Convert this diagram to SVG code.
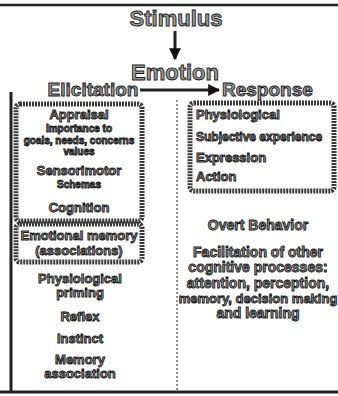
<svg xmlns="http://www.w3.org/2000/svg" width="338" height="396" viewBox="0 0 338 396">
<defs>
<marker id="ah" viewBox="0 0 10 10" refX="9" refY="5" markerWidth="4" markerHeight="4" orient="auto"><path d="M0,0 L10,5 L0,10 z" fill="#111"/></marker>
<style>
.t{font-family:"Liberation Sans",Arial,sans-serif;fill:#9a9a9a;stroke:#1a1a1a;stroke-width:0.9;text-anchor:middle;font-weight:bold}
.h{font-size:19px}
.hx{font-size:22px}
.m{font-size:13px}
.r{font-size:14px}
.s{font-size:10px}
.l{text-anchor:start}
.box{fill:none;stroke:#3a3a3a;stroke-width:5;stroke-dasharray:2 1}
.line{stroke:#222;fill:none}
</style>
</defs>
<rect x="0" y="0" width="338" height="396" fill="#fff"/>
<g id="frame">
<line class="line" x1="0" y1="5" x2="338" y2="5" stroke-width="2.5"/>
<line class="line" x1="0" y1="392" x2="338" y2="392" stroke-width="3"/>
<line class="line" x1="11" y1="92" x2="11" y2="392" stroke-width="3"/>
<line class="line" x1="177" y1="100" x2="177" y2="392" stroke-width="1" stroke-dasharray="2 2"/>
</g>
<g id="connectors">
<line class="line" x1="175" y1="31" x2="175" y2="59" stroke-width="3" marker-end="url(#ah)"/>
<line class="line" x1="140" y1="90" x2="219" y2="90" stroke-width="3" marker-end="url(#ah)"/>
</g>
<g id="stimulus"><text class="t hx" x="176" y="26">Stimulus</text></g>
<g id="emotion"><text class="t hx" x="175" y="80">Emotion</text></g>
<g id="elicitation"><text class="t h" x="93" y="96">Elicitation</text></g>
<g id="response"><text class="t h l" x="222" y="96">Response</text></g>
<g id="appraisal-box">
<rect class="box" x="16" y="104" width="126" height="117" rx="4"/>
<text class="t m" x="79" y="119">Appraisal</text>
<text class="t s" x="79" y="132">Importance to</text>
<text class="t s" x="79" y="144">goals, needs, concerns</text>
<text class="t s" x="79" y="155">values</text>
<text class="t m" x="79" y="175">Sensorimotor</text>
<text class="t s" x="79" y="188">Schemas</text>
<text class="t m" x="79" y="212">Cognition</text>
</g>
<g id="memory-box">
<rect class="box" x="16" y="224" width="126" height="38" rx="4"/>
<text class="t m" x="79" y="240">Emotional memory</text>
<text class="t m" x="79" y="255">(associations)</text>
</g>
<g id="left-list">
<text class="t m" x="80" y="283">Physiological</text>
<text class="t m" x="80" y="297">priming</text>
<text class="t m" x="80" y="321">Reflex</text>
<text class="t m" x="80" y="343">Instinct</text>
<text class="t m" x="80" y="364">Memory</text>
<text class="t m" x="80" y="378">association</text>
</g>
<g id="response-box">
<rect class="box" x="190" y="103" width="144" height="88" rx="4"/>
<text class="t m l" x="196" y="119">Physiological</text>
<text class="t l" x="196" y="141" style="font-size:12px">Subjective experience</text>
<text class="t m l" x="196" y="162">Expression</text>
<text class="t m l" x="196" y="181">Action</text>
</g>
<g id="right-list">
<text class="t r" x="258" y="230">Overt Behavior</text>
<text class="t r" x="258" y="257">Facilitation of other</text>
<text class="t r" x="258" y="272">cognitive processes:</text>
<text class="t r" x="258" y="288">attention, perception,</text>
<text class="t m" x="258" y="303">memory, decision making</text>
<text class="t r" x="258" y="318">and learning</text>
</g>
</svg>
